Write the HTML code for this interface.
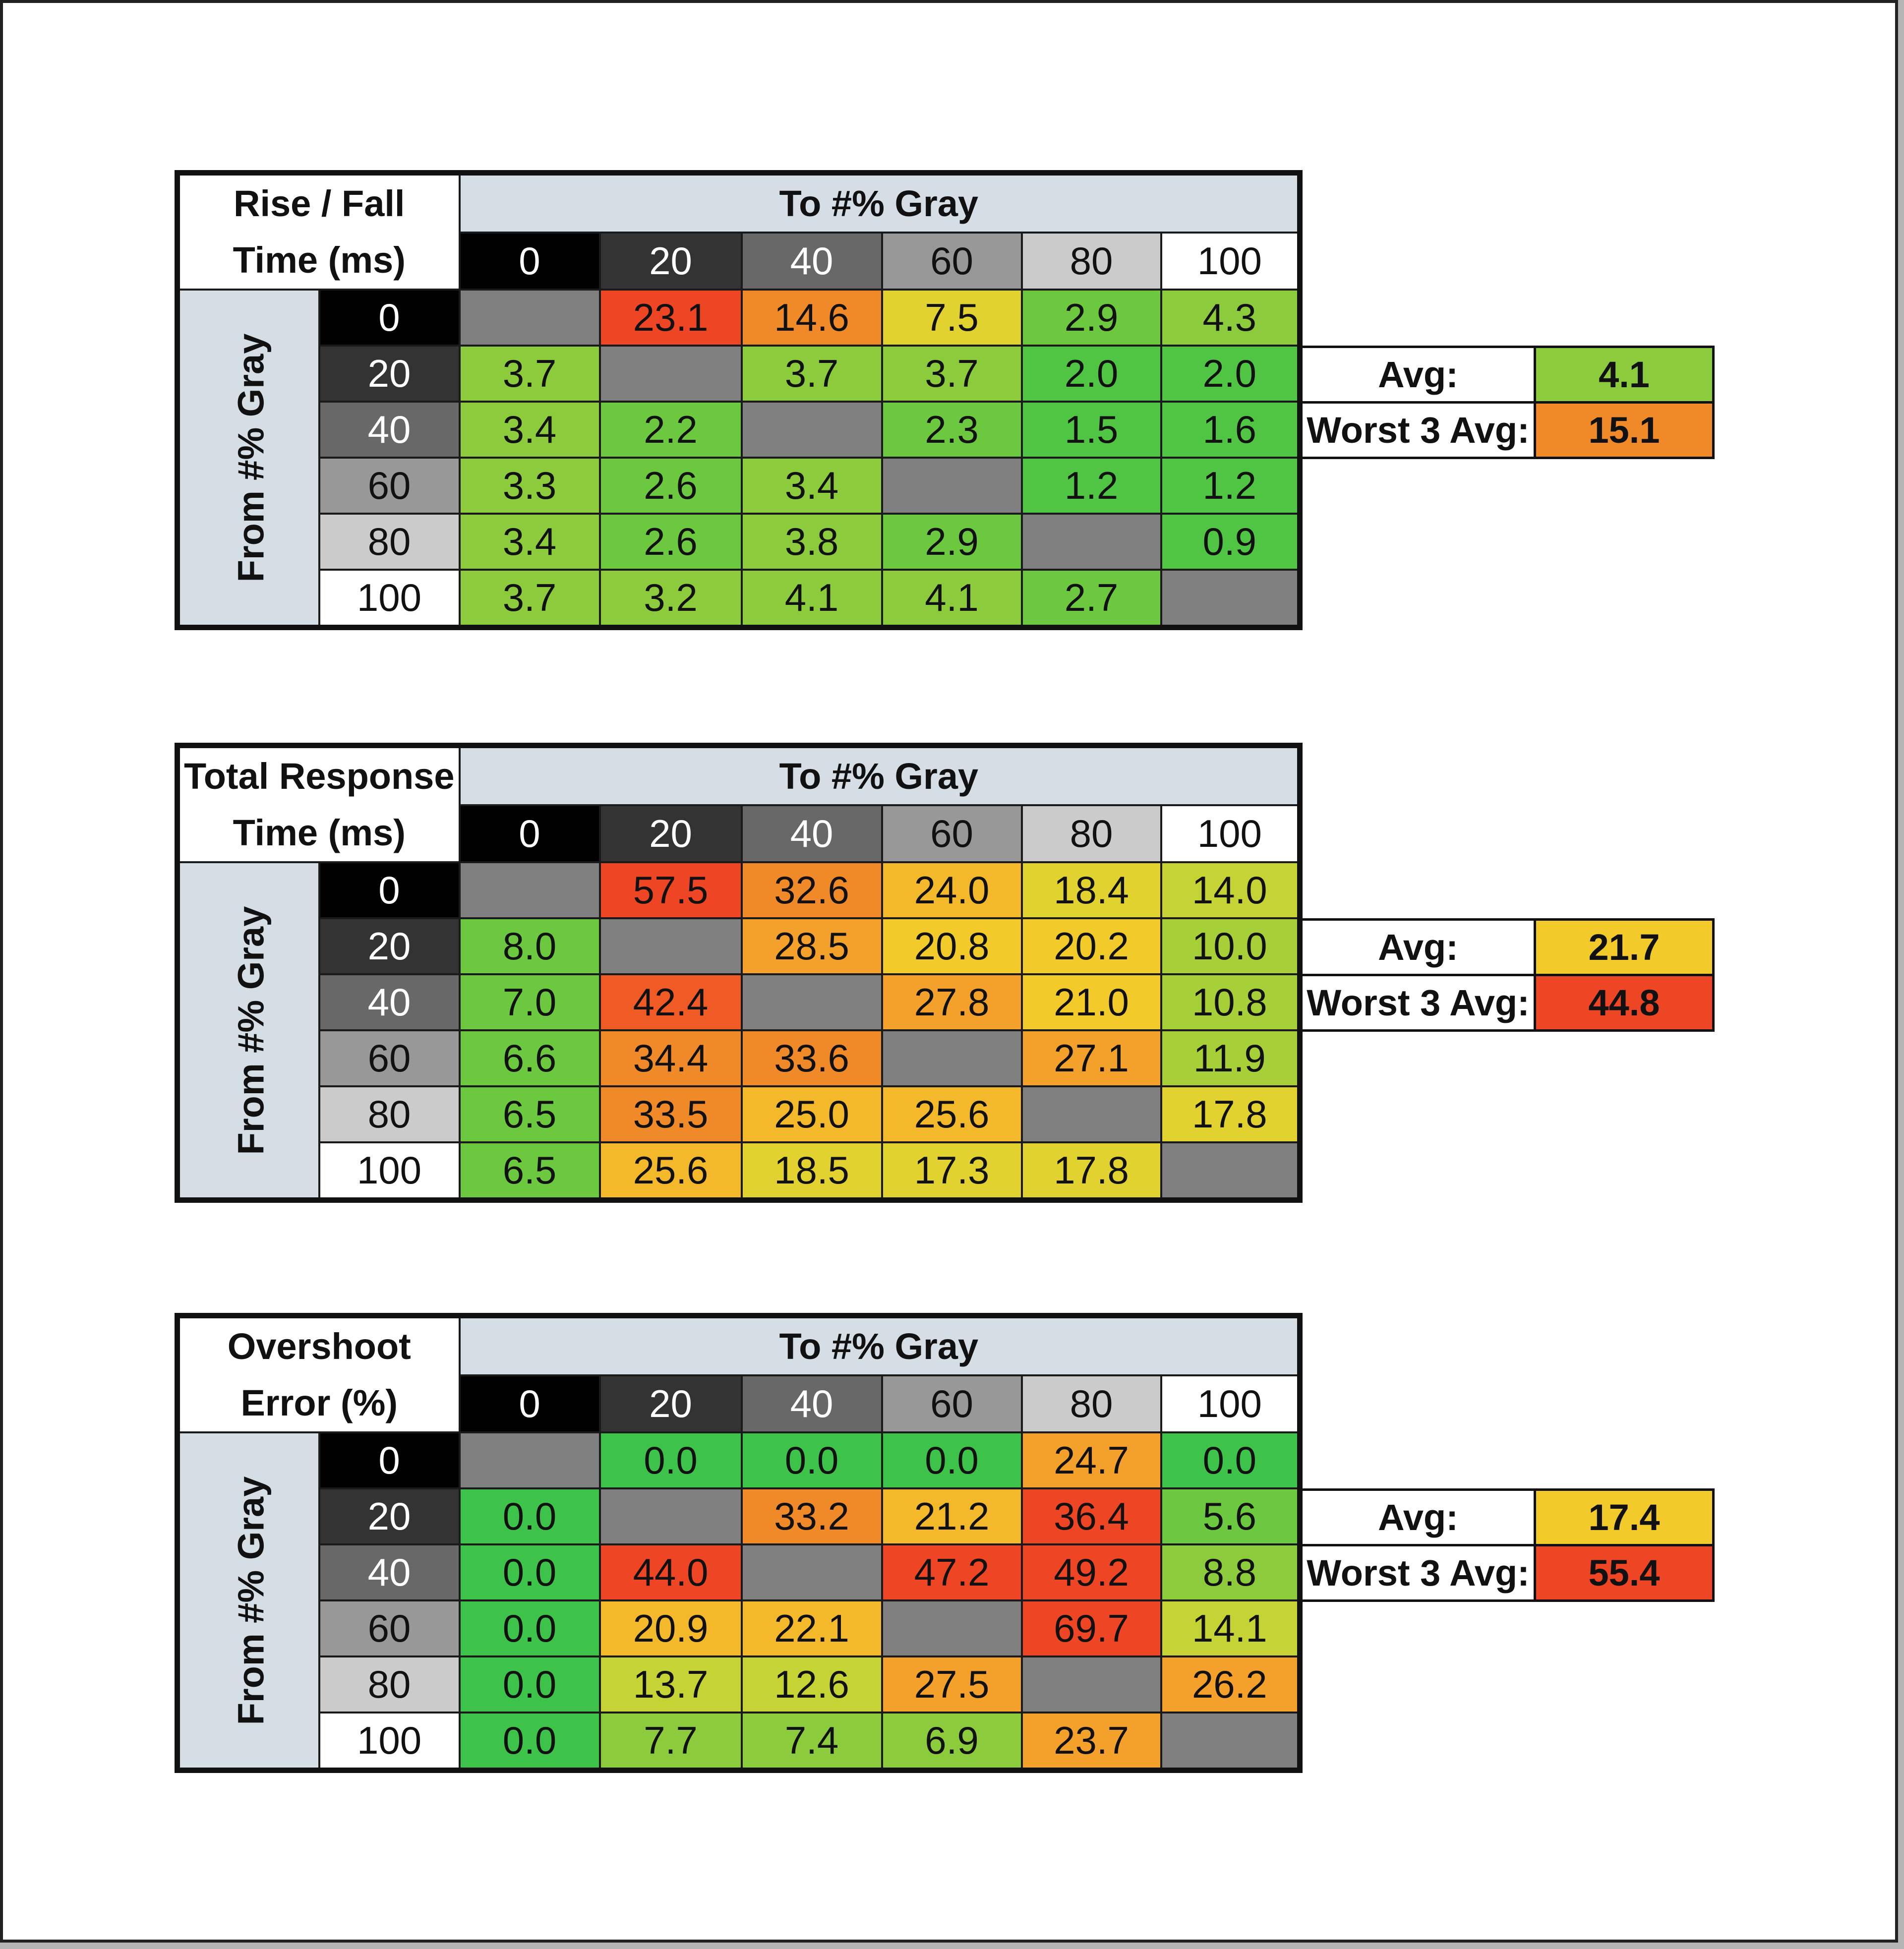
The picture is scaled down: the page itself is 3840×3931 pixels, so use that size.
<!DOCTYPE html>
<html><head><meta charset="utf-8"><style>
html,body{margin:0;padding:0}
body{width:3840px;height:3931px;background:#b4b4b4;position:relative;overflow:hidden;font-family:"Liberation Sans Narrow","Liberation Sans",sans-serif}
.page{position:absolute;left:0;top:0;width:3816px;height:3906px;background:#fff;border:6px solid #222}
table{position:absolute;left:352px;border-collapse:collapse;table-layout:fixed;border:11px solid #111}
td{border:4px solid #1a1a1a;text-align:center;vertical-align:middle;padding:0;font-size:78px;color:#111;overflow:hidden;white-space:nowrap}
tr.h1 td{height:112px}
tr.h2 td{height:110px}
tr.d td{height:109px}
.title{background:#fff;font-weight:bold;line-height:114px;font-size:74px}
.to{background:#d5dde5;font-weight:bold;font-size:74px}
.vl{background:#d5dde5;position:relative}
.vl div{transform:rotate(-90deg);font-weight:bold;font-size:74px;white-space:nowrap;width:600px;margin-left:-157px}
.g0{background:#000;color:#fff}.g20{background:#333;color:#fff}.g40{background:#686868;color:#fff}
.g60{background:#989898}.g80{background:#cbcbcb}.g100{background:#fff}
.x{background:#808080}
.R{background:#ee4524}.O{background:#f08a29}.A{background:#f3a12a}.Y1{background:#f4b92b}.Y2{background:#f2cb2a}
.Y{background:#e2d22f}.YG{background:#c6d335}.LG{background:#a6cf38}.G1{background:#8ccb3b}.G2{background:#6bc83f}.G3{background:#4fc543}.G0{background:#3ec34a}
.avg{position:absolute;left:2622px;border-collapse:collapse;border:5px solid #111}
.avg td{border:5px solid #111;height:107px;font-weight:bold;font-size:74px}
.avg td.l{width:466px;background:#fff}.avg td.v{width:355px}
</style></head><body>
<div class="page"></div>

<table style="top:343px;width:2274px">
<colgroup><col style="width:286px"><col style="width:283px"><col style="width:283px"><col style="width:286px"><col style="width:283px"><col style="width:282px"><col style="width:281px"><col style="width:280px"></colgroup>
<tr class="h1"><td colspan="2" rowspan="2" class="title">Rise / Fall<br>Time (ms)</td><td colspan="6" class="to">To #% Gray</td></tr>
<tr class="h2"><td class="g0">0</td><td class="g20">20</td><td class="g40">40</td><td class="g60">60</td><td class="g80">80</td><td class="g100">100</td></tr>
<tr class="d"><td rowspan="6" class="vl"><div>From #% Gray</div></td><td class="g0">0</td><td class="x"></td><td class="R">23.1</td><td class="O">14.6</td><td class="Y">7.5</td><td class="G2">2.9</td><td class="G1">4.3</td></tr>
<tr class="d"><td class="g20">20</td><td class="G1">3.7</td><td class="x"></td><td class="G1">3.7</td><td class="G1">3.7</td><td class="G3">2.0</td><td class="G3">2.0</td></tr>
<tr class="d"><td class="g40">40</td><td class="G1">3.4</td><td class="G2">2.2</td><td class="x"></td><td class="G2">2.3</td><td class="G3">1.5</td><td class="G3">1.6</td></tr>
<tr class="d"><td class="g60">60</td><td class="G1">3.3</td><td class="G2">2.6</td><td class="G1">3.4</td><td class="x"></td><td class="G3">1.2</td><td class="G3">1.2</td></tr>
<tr class="d"><td class="g80">80</td><td class="G1">3.4</td><td class="G2">2.6</td><td class="G1">3.8</td><td class="G2">2.9</td><td class="x"></td><td class="G3">0.9</td></tr>
<tr class="d"><td class="g100">100</td><td class="G1">3.7</td><td class="G1">3.2</td><td class="G1">4.1</td><td class="G1">4.1</td><td class="G2">2.7</td><td class="x"></td></tr>
</table>
<table class="avg" style="top:697px"><tr><td class="l">Avg:</td><td class="v G1">4.1</td></tr><tr><td class="l">Worst 3 Avg:</td><td class="v O">15.1</td></tr></table>

<table style="top:1498px;width:2274px">
<colgroup><col style="width:286px"><col style="width:283px"><col style="width:283px"><col style="width:286px"><col style="width:283px"><col style="width:282px"><col style="width:281px"><col style="width:280px"></colgroup>
<tr class="h1"><td colspan="2" rowspan="2" class="title">Total Response<br>Time (ms)</td><td colspan="6" class="to">To #% Gray</td></tr>
<tr class="h2"><td class="g0">0</td><td class="g20">20</td><td class="g40">40</td><td class="g60">60</td><td class="g80">80</td><td class="g100">100</td></tr>
<tr class="d"><td rowspan="6" class="vl"><div>From #% Gray</div></td><td class="g0">0</td><td class="x"></td><td class="R">57.5</td><td class="O">32.6</td><td class="Y1">24.0</td><td class="Y">18.4</td><td class="YG">14.0</td></tr>
<tr class="d"><td class="g20">20</td><td class="G2">8.0</td><td class="x"></td><td class="A">28.5</td><td class="Y2">20.8</td><td class="Y2">20.2</td><td class="LG">10.0</td></tr>
<tr class="d"><td class="g40">40</td><td class="G2">7.0</td><td class="R" style="background:#f05a25">42.4</td><td class="x"></td><td class="A">27.8</td><td class="Y2">21.0</td><td class="LG">10.8</td></tr>
<tr class="d"><td class="g60">60</td><td class="G2">6.6</td><td class="O">34.4</td><td class="O">33.6</td><td class="x"></td><td class="A">27.1</td><td class="LG">11.9</td></tr>
<tr class="d"><td class="g80">80</td><td class="G2">6.5</td><td class="O">33.5</td><td class="Y1">25.0</td><td class="Y1">25.6</td><td class="x"></td><td class="Y">17.8</td></tr>
<tr class="d"><td class="g100">100</td><td class="G2">6.5</td><td class="Y1">25.6</td><td class="Y">18.5</td><td class="Y">17.3</td><td class="Y">17.8</td><td class="x"></td></tr>
</table>
<table class="avg" style="top:1852px"><tr><td class="l">Avg:</td><td class="v Y2">21.7</td></tr><tr><td class="l">Worst 3 Avg:</td><td class="v R">44.8</td></tr></table>

<table style="top:2648px;width:2274px">
<colgroup><col style="width:286px"><col style="width:283px"><col style="width:283px"><col style="width:286px"><col style="width:283px"><col style="width:282px"><col style="width:281px"><col style="width:280px"></colgroup>
<tr class="h1"><td colspan="2" rowspan="2" class="title">Overshoot<br>Error (%)</td><td colspan="6" class="to">To #% Gray</td></tr>
<tr class="h2"><td class="g0">0</td><td class="g20">20</td><td class="g40">40</td><td class="g60">60</td><td class="g80">80</td><td class="g100">100</td></tr>
<tr class="d"><td rowspan="6" class="vl"><div>From #% Gray</div></td><td class="g0">0</td><td class="x"></td><td class="G0">0.0</td><td class="G0">0.0</td><td class="G0">0.0</td><td class="A">24.7</td><td class="G0">0.0</td></tr>
<tr class="d"><td class="g20">20</td><td class="G0">0.0</td><td class="x"></td><td class="O">33.2</td><td class="Y1">21.2</td><td class="R">36.4</td><td class="G2">5.6</td></tr>
<tr class="d"><td class="g40">40</td><td class="G0">0.0</td><td class="R">44.0</td><td class="x"></td><td class="R">47.2</td><td class="R">49.2</td><td class="G1">8.8</td></tr>
<tr class="d"><td class="g60">60</td><td class="G0">0.0</td><td class="Y1">20.9</td><td class="Y1">22.1</td><td class="x"></td><td class="R">69.7</td><td class="YG">14.1</td></tr>
<tr class="d"><td class="g80">80</td><td class="G0">0.0</td><td class="YG">13.7</td><td class="YG">12.6</td><td class="A">27.5</td><td class="x"></td><td class="A">26.2</td></tr>
<tr class="d"><td class="g100">100</td><td class="G0">0.0</td><td class="G1">7.7</td><td class="G1">7.4</td><td class="G1">6.9</td><td class="A">23.7</td><td class="x"></td></tr>
</table>
<table class="avg" style="top:3002px"><tr><td class="l">Avg:</td><td class="v Y2">17.4</td></tr><tr><td class="l">Worst 3 Avg:</td><td class="v R">55.4</td></tr></table>
</body></html>
